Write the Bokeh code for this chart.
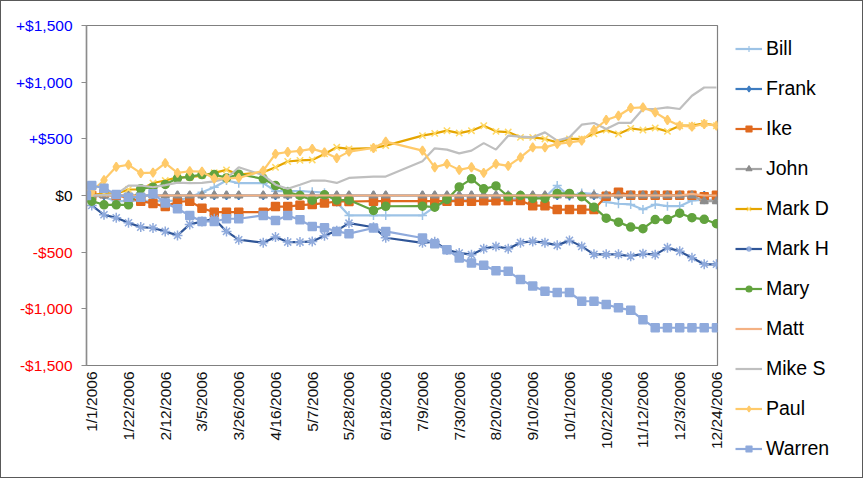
import math
import datetime as dt
from bokeh.plotting import figure
from bokeh.layouts import row
from bokeh.models import Range1d, FixedTicker, Legend, LegendItem, ColumnDataSource
from bokeh.core.properties import value
from bokeh.embed import file_html
from bokeh.resources import INLINE

# ---------------- data ----------------
dates = ["12/29/2005",
         "1/1/2006", "1/8/2006", "1/15/2006", "1/22/2006", "1/29/2006", "2/5/2006", "2/12/2006",
         "2/19/2006", "2/26/2006", "3/5/2006", "3/12/2006", "3/19/2006", "3/26/2006",
         "4/9/2006", "4/16/2006", "4/23/2006", "4/30/2006", "5/7/2006", "5/14/2006", "5/21/2006", "5/28/2006",
         "6/11/2006", "6/18/2006",
         "7/9/2006", "7/16/2006", "7/23/2006", "7/30/2006", "8/6/2006", "8/13/2006", "8/20/2006",
         "8/27/2006", "9/3/2006", "9/10/2006", "9/17/2006", "9/24/2006", "10/1/2006", "10/8/2006",
         "10/15/2006", "10/22/2006", "10/29/2006", "11/5/2006", "11/12/2006", "11/19/2006",
         "11/26/2006", "12/3/2006", "12/10/2006", "12/17/2006", "12/24/2006"]

bill = [0,
        0, -15, -50, -50, -44, -50, -50, -44, -15, 29, 73, 132, 109,
        109, 38, 38, 38, 33, 25, -60, -176,
        -176, -176,
        -176, -100, -50, -30, -50, -44, -38, -38, -21, -15, -15, 88, -9, 21, 15, -59, -73, -79, -123,
        -79, -94, -94, -44, -38, -38]
frank = [0] * 49
ike = [0,
       0, 18, 0, -20, -50, -70, -98, -55, -50, -112, -147, -147, -147,
       -147, -98, -98, -85, -79, -67, -53, -53,
       -50, -50,
       -50, -50, -50, -50, -50, -47, -47, -44, -44, -90, -90, -124, -124, -124, -124, -6, 29, 3, 3,
       3, 3, 3, 3, -10, 3]
john = [0] * 47 + [-50, -50]
mark_d = [0,
          0, 21, 15, 53, 53, 110, 132, 160, 161, 176, 200, 226, 185,
          205, 249, 300, 310, 314, 367, 425, 411,
          419, 440,
          528, 548, 572, 551, 572, 616, 566, 560, 513, 513, 499, 469, 499, 499, 545, 578, 543, 592, 578,
          596, 566, 616, 616, 636, 616]
mark_h = [0,
          -88, -170, -197, -240, -279, -287, -317, -352, -255, -229, -205, -317, -390,
          -416, -367, -411, -411, -405, -355, -310, -244,
          -280, -373,
          -418, -408, -480, -507, -522, -469, -449, -469, -416, -405, -416, -440, -396, -449, -519,
          -519, -519, -537, -513, -522, -460, -493, -549, -607, -607]
mary = [0,
        -50, -82, -82, -82, 60, 73, 97, 152, 167, 185, 185, 155, 188,
        147, 88, 30, 0, -42, 6, -40, -40,
        -132, -95,
        -94, -103, -35, 76, 147, 59, 84, -10, 0, -26, -26, 18, 18, -10, -103, -200, -235, -279, -293,
        -212, -212, -156, -196, -210, -249]
matt = [0] * 46 + [15, 0, 0]
mike_s = [0,
          0, 5, 10, 88, 88, 73, 91, 113, 109, 111, 125, 150, 249,
          180, 95, 59, 95, 132, 132, 111, 155,
          167, 167,
          302, 416, 405, 372, 396, 462, 405, 528, 519, 513, 557, 484, 513, 625, 640, 587, 640, 640, 763,
          763, 777, 763, 880, 953, 953]
paul = [0,
        35, 136, 253, 271, 198, 202, 285, 200, 214, 210, 150, 150, 155,
        220, 367, 384, 393, 411, 381, 330, 387,
        419, 475,
        396, 249, 279, 226, 249, 200, 279, 261, 337, 425, 425, 455, 469, 484, 578, 666, 704, 772, 778,
        733, 666, 616, 607, 631, 616]
warren = [0,
          88, 65, 9, -15, -15, 15, -66, -117, -176, -229, -229, -205, -205,
          -176, -220, -176, -215, -273, -284, -317, -337,
          -287, -317,
          -375, -425, -478, -552, -596, -616, -663, -669, -742, -798, -845, -856, -856, -933, -933, -962,
          -991, -1012, -1097, -1167, -1167, -1167, -1167, -1167, -1167]

names = ["Bill", "Frank", "Ike", "John", "Mark D", "Mark H", "Mary", "Matt", "Mike S", "Paul", "Warren"]
values = [bill, frank, ike, john, mark_d, mark_h, mary, matt, mike_s, paul, warren]

tick_labels = ["1/1/2006", "1/22/2006", "2/12/2006", "3/5/2006", "3/26/2006", "4/16/2006",
               "5/7/2006", "5/28/2006", "6/18/2006", "7/9/2006", "7/30/2006", "8/20/2006",
               "9/10/2006", "10/1/2006", "10/22/2006", "11/12/2006", "12/3/2006", "12/24/2006"]
y_ticks = [-1500, -1000, -500, 0, 500, 1000, 1500]
y_tick_labels = ["-$1,500", "-$1,000", "-$500", "$0", "+$500", "+$1,000", "+$1,500"]

# ---------------- styles ----------------
styles = {
    "Bill":   dict(line="#9DC3E6", marker="cross",    mcolor="#9DC3E6", size=9),
    "Frank":  dict(line="#3D7CC0", marker="diamond",  mcolor="#3D7CC0", size=8),
    "Ike":    dict(line="#E0691E", marker="square",   mcolor="#E0691E", size=8),
    "John":   dict(line="#A5A5A5", marker="triangle", mcolor="#8C8C8C", size=8),
    "Mark D": dict(line="#E5A500", marker="x",        mcolor="#FFD966", size=9),
    "Mark H": dict(line="#2F5597", marker="asterisk", mcolor="#8FAADC", size=10),
    "Mary":   dict(line="#62A33E", marker="circle",   mcolor="#62A33E", size=8),
    "Matt":   dict(line="#F4B183", marker=None,       mcolor=None, size=0),
    "Mike S": dict(line="#BFBFBF", marker=None,       mcolor=None, size=0),
    "Paul":   dict(line="#FFCA6A", marker="diamond",  mcolor="#FFCA6A", size=9),
    "Warren": dict(line="#8FAADC", marker="square",   mcolor="#8FAADC", size=8),
}

FONT = "Liberation Sans"
H = 476
TOP = 24
FRAME_H = 340
BOTTOM = H - TOP - FRAME_H
FRAME_W = 631
X0, X1 = -3, 357.6
LEFT_W, MAIN_L, MAIN_R = 75, 10, 12
MAIN_W = MAIN_L + FRAME_W + MAIN_R
LEG_W = 861 - LEFT_W - MAIN_W
base = dt.date(2006, 1, 1)


def to_day(s):
    m, d, y = (int(t) for t in s.split("/"))
    return (dt.date(y, m, d) - base).days


xs = [to_day(s) for s in dates]
tick_pos = [to_day(s) for s in tick_labels]
y_range = Range1d(-1500, 1500)

# ---------------- left: coloured y tick labels ----------------
per_px = 3000 / FRAME_H
left = figure(width=LEFT_W, height=H, output_backend="svg", toolbar_location=None,
              x_range=Range1d(0, LEFT_W),
              y_range=Range1d(-1500 - BOTTOM * per_px, 1500 + TOP * per_px),
              min_border_left=0, min_border_right=0, min_border_top=0, min_border_bottom=0)
left.frame_align = False
left.axis.visible = False
left.grid.visible = False
left.outline_line_color = None
lab_colors = ["#FF0000" if v < 0 else ("#0000FF" if v > 0 else "#000000") for v in y_ticks]
left.text(x=[71] * len(y_ticks), y=y_ticks, text=y_tick_labels,
          text_align="right", text_baseline="middle", text_color=lab_colors,
          text_font=value(FONT), text_font_size="15.5px")

# ---------------- main chart ----------------
p = figure(width=MAIN_W, height=H, output_backend="svg", toolbar_location=None,
           x_range=Range1d(X0, X1), y_range=y_range,
           min_border_left=MAIN_L, min_border_right=MAIN_R, min_border_top=TOP, min_border_bottom=BOTTOM)
p.xgrid.grid_line_color = None
p.ygrid.grid_line_color = None
p.outline_line_color = "#808080"
p.outline_line_width = 1.2

p.xaxis.ticker = FixedTicker(ticks=tick_pos)
p.xaxis.major_label_overrides = {t: s for t, s in zip(tick_pos, tick_labels)}
p.xaxis.major_label_orientation = math.pi / 2
p.xaxis.major_label_text_font = FONT
p.xaxis.major_label_text_font_size = "15.5px"
p.xaxis.major_label_text_color = "#111111"
p.xaxis.major_label_standoff = 6
p.xaxis.major_tick_out = 0
p.xaxis.major_tick_in = 0
p.xaxis.minor_tick_out = 0
p.xaxis.minor_tick_in = 0
p.xaxis.axis_line_color = "#808080"
p.xaxis.axis_line_width = 1.2

p.yaxis.ticker = FixedTicker(ticks=y_ticks)
p.yaxis.major_label_overrides = {v: "" for v in y_ticks}
p.yaxis.major_label_standoff = 0
p.yaxis.major_tick_out = 5
p.yaxis.major_tick_in = 0
p.yaxis.minor_tick_out = 0
p.yaxis.minor_tick_in = 0
p.yaxis.axis_line_color = "#8C8C8C"
p.yaxis.axis_line_width = 1.5
p.yaxis.major_tick_line_color = "#8C8C8C"
p.yaxis.major_tick_line_width = 1.2

# ---------------- right: legend ----------------
leg = figure(width=LEG_W, height=H, output_backend="svg", toolbar_location=None,
             x_range=Range1d(0, 1), y_range=Range1d(0, 1),
             min_border_left=0, min_border_right=0, min_border_top=0, min_border_bottom=0)
leg.frame_align = False
leg.axis.visible = False
leg.grid.visible = False
leg.outline_line_color = None

items = []
for name, vals in zip(names, values):
    st = styles[name]
    src = ColumnDataSource(dict(x=xs, y=vals))
    p.line("x", "y", source=src, line_color=st["line"], line_width=2.2)
    rs = [leg.line(x=[-5, -4], y=[-5, -5], line_color=st["line"], line_width=2.2)]
    if st["marker"]:
        p.scatter("x", "y", source=src, marker=st["marker"], size=st["size"],
                  fill_color=st["mcolor"], line_color=st["mcolor"], line_width=1.5)
        rs.append(leg.scatter(x=[-5], y=[-5], marker=st["marker"], size=st["size"],
                              fill_color=st["mcolor"], line_color=st["mcolor"], line_width=1.2))
    items.append(LegendItem(label=name, renderers=rs))

legend = Legend(items=items, location=(6, 17.5), orientation="vertical",
                border_line_color=None, background_fill_alpha=0, padding=0, margin=0,
                spacing=17, glyph_width=27, glyph_height=15, label_height=20,
                label_standoff=4, label_text_font=FONT, label_text_font_size="19.5px",
                label_text_color="#000000", label_text_baseline="middle")
leg.add_layout(legend)

layout = row(left, p, leg)
layout.styles = {"border": "1px solid #595959", "box-sizing": "content-box"}
open("out.html", "w").write(file_html(layout, INLINE))
